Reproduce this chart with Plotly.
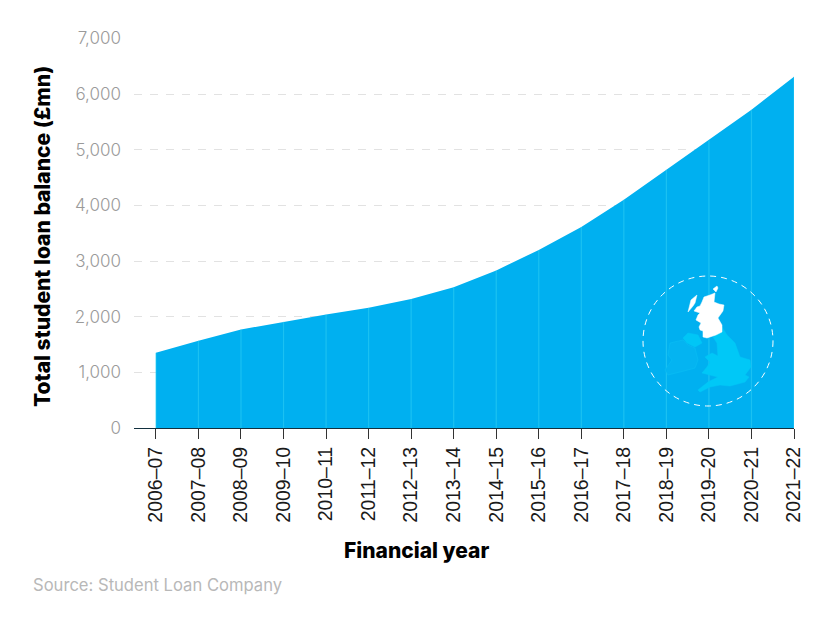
import plotly.graph_objects as go

years = ["2006–07", "2007–08", "2008–09", "2009–10", "2010–11", "2011–12", "2012–13", "2013–14",
         "2014–15", "2015–16", "2016–17", "2017–18", "2018–19", "2019–20", "2020–21", "2021–22"]
balance = [1350, 1570, 1770, 1910, 2040, 2160, 2320, 2530, 2830, 3200, 3610, 4100, 4640, 5170, 5720, 6310]
y_ticks = [0, 1000, 2000, 3000, 4000, 5000, 6000, 7000]

# map decoration outlines, pixel positions in the photographed page
scotland = [(702, 302), (704, 297), (710, 295), (715, 293), (714, 302), (719, 304), (724, 305), (723, 311),
            (718, 318), (722, 325), (722, 332), (716, 335), (707, 338), (703, 337), (703, 331), (700, 330),
            (699, 327), (701, 323), (696, 320), (698, 315), (700, 313), (694, 311), (697, 307), (700, 306)]
hebrides = [(688, 312), (691, 300), (697, 295), (695, 303), (693, 306)]
orkney = [(713, 289), (717, 286), (718, 288), (716, 292)]
england_wales = [(722, 327), (727, 335), (735, 343), (740, 357), (750, 360), (751, 367), (745, 375), (749, 377),
                 (745, 382), (730, 386), (720, 385), (710, 387), (700, 392), (698, 390), (708, 382), (718, 377),
                 (702, 373), (707, 367), (710, 362), (705, 357), (712, 353), (718, 356), (717, 343), (713, 337)]
n_ireland = [(683, 338), (688, 333), (698, 335), (702, 343), (695, 347), (687, 343)]
ireland = [(670, 343), (683, 340), (688, 345), (695, 348), (698, 360), (695, 368), (680, 372), (668, 375),
           (665, 370), (672, 360), (668, 355)]

# the page body has an 8px margin, so page positions are offset
PAGE = 8
LEFT, RIGHT, TOP, BOTTOM = 134, 794, 38, 428


def paper_x(px):
    return (px - LEFT) / (RIGHT - LEFT)


def paper_y(py):
    return (BOTTOM - py) / (BOTTOM - TOP)


def to_path(points):
    parts = [f"{paper_x(px):.4f},{paper_y(py):.4f}" for px, py in points]
    return "M" + " L".join(parts) + " Z"


fig = go.Figure()
fig.add_trace(go.Scatter(
    x=years, y=balance, mode="lines", fill="tozeroy",
    fillcolor="#00b0f0", line=dict(width=0, color="#00b0f0"), hoverinfo="skip",
))
# faint vertical lines inside the area
fig.add_trace(go.Scatter(
    x=years, y=balance, mode="markers", marker=dict(size=0.1, opacity=0),
    error_y=dict(type="data", symmetric=False, array=[0] * len(balance), arrayminus=balance,
                 color="rgba(60,215,245,0.45)", thickness=1.2, width=0),
    hoverinfo="skip",
))

shapes = []
for pts, col, line_col in [
    (ireland, "#04b4f1", "#0cc0f4"),
    (n_ireland, "#00c6f6", "#00c6f6"),
    (england_wales, "#00c8f7", "#00c8f7"),
    (scotland, "#ffffff", "#ffffff"),
    (hebrides, "#ffffff", "#ffffff"),
    (orkney, "#ffffff", "#ffffff"),
]:
    shapes.append(dict(type="path", xref="paper", yref="paper", path=to_path(pts),
                       fillcolor=col, line=dict(color=line_col, width=0.5), layer="above"))
shapes.append(dict(type="circle", xref="paper", yref="paper",
                   x0=paper_x(643), x1=paper_x(773), y0=paper_y(406), y1=paper_y(276),
                   line=dict(color="#ffffff", width=1, dash="6px,5px"), layer="above"))

title_font = dict(family="Inter", size=21, color="#000000", weight=800)

fig.update_layout(
    width=830 - PAGE, height=620 - PAGE,
    margin=dict(l=LEFT - PAGE, r=830 - RIGHT, t=TOP - PAGE, b=620 - BOTTOM),
    paper_bgcolor="white", plot_bgcolor="white",
    showlegend=False, shapes=shapes,
    font=dict(family="Inter"),
    annotations=[
        dict(text="Financial year", xref="paper", yref="paper", x=paper_x(416), y=paper_y(550),
             xanchor="center", yanchor="middle", showarrow=False, font=title_font),
        dict(text="Total student loan balance (£mn)", xref="paper", yref="paper", x=paper_x(42), y=paper_y(237),
             xanchor="center", yanchor="middle", textangle=-90, showarrow=False, font=title_font),
        dict(text="Source: Student Loan Company", xref="paper", yref="paper", x=paper_x(31), y=paper_y(585),
             xanchor="left", yanchor="middle", showarrow=False,
             font=dict(family="Inter", size=16.6, color="#b8b8b8")),
    ],
)
fig.update_xaxes(
    type="category", range=[-0.515, 15], tickvals=years, ticktext=years, tickangle=-90,
    tickfont=dict(family="Liberation Sans", size=19.5, color="#1a1a1a"),
    showgrid=False, showline=True, linecolor="#12303f", linewidth=1,
    ticks="outside", ticklen=10, tickcolor="#333333", tickwidth=1,
    automargin=False,
)
fig.update_yaxes(
    range=[0, 7008], tickvals=y_ticks, tickformat=",",
    tickfont=dict(family="Inter", size=17, color="#9a9a9a", weight=300),
    ticklabelstandoff=12,
    showgrid=True, gridcolor="#e2e2e2", griddash="8px,8px", gridwidth=1,
    zeroline=False, showline=False, ticks="",
    automargin=False,
)

fig.write_html("out.html")
